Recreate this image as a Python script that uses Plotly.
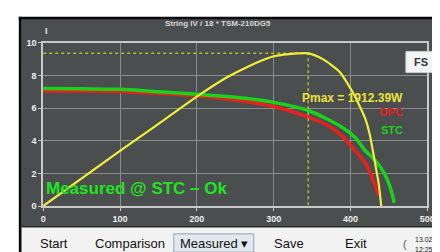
import plotly.graph_objects as go

# ---- data ----
meas_v = [0, 50, 100, 150, 200, 263, 300, 345, 370, 390, 406, 421, 430, 437]
meas_i = [7.05, 7.05, 7.02, 6.9, 6.75, 6.4, 6.1, 5.45, 4.95, 4.25, 3.4, 2.5, 1.5, 0.65]
stc_v = [0, 50, 100, 150, 200, 263, 300, 345, 390, 406, 419, 430, 444, 452, 457]
stc_i = [7.2, 7.18, 7.15, 7.0, 6.85, 6.6, 6.35, 5.85, 4.8, 4.2, 3.4, 2.9, 2.0, 1.1, 0.2]
pow_v = [0, 100, 140, 200, 237, 263, 298, 320, 345, 364, 386, 402, 409, 419, 425, 431, 437, 440]
pow_w = [0, 690, 960, 1370, 1600, 1730, 1870, 1902, 1912, 1840, 1680, 1440, 1310, 1100, 900, 590, 260, 0]
vmpp = 345
pmax = 1912.39
x_ticks = [0, 100, 200, 300, 400, 500]
y_ticks = [0, 2, 4, 6, 8, 10]
title_text = "String IV / 18 * TSM-210DG5"
buttons = ["Start", "Comparison", "Measured ▾", "Save", "Exit"]

W, H = 440, 252
def px(x):
    return x / W
def py(y):
    return 1 - y / H

fig = go.Figure()

fig.add_trace(go.Scatter(x=[0, vmpp, vmpp], y=[pmax, pmax, 0], mode="lines", yaxis="y2",
                         line=dict(color="#b8b832", width=1.5, dash="dot"), hoverinfo="skip"))
fig.add_trace(go.Scatter(x=meas_v, y=meas_i, mode="lines",
                         line=dict(color="#e8201e", width=3.5, shape="spline", smoothing=0.8), name="OPC"))
fig.add_trace(go.Scatter(x=stc_v, y=stc_i, mode="lines",
                         line=dict(color="#18d21c", width=3.5, shape="spline", smoothing=0.8), name="STC"))
fig.add_trace(go.Scatter(x=pow_v, y=pow_w, mode="lines", yaxis="y2",
                         line=dict(color="#f2ee3a", width=2.2, shape="spline", smoothing=0.6), name="P"))

font = "Liberation Sans, Arial, sans-serif"

shapes = [
    dict(type="rect", xref="paper", yref="paper", x0=px(11), x1=px(440), y0=py(222), y1=py(7),
         fillcolor="#4b4e4e", line=dict(width=0), layer="below"),
    dict(type="rect", xref="paper", yref="paper", x0=px(8), x1=px(440), y0=py(7), y1=py(4),
         fillcolor="#0a0a0a", line=dict(width=0), layer="below"),
    dict(type="rect", xref="paper", yref="paper", x0=px(8), x1=px(11), y0=py(252), y1=py(4),
         fillcolor="#0a0a0a", line=dict(width=0), layer="below"),
    dict(type="rect", xref="paper", yref="paper", x0=px(11), x1=px(440), y0=py(252), y1=py(223),
         fillcolor="#f2f2f2", line=dict(width=0), layer="below"),
    dict(type="line", xref="paper", yref="paper", x0=px(11), x1=px(440), y0=py(222.5), y1=py(222.5),
         line=dict(color="#2a2a2a", width=1.5)),
    dict(type="rect", xref="paper", yref="paper", x0=px(167), x1=px(249), y0=py(249), y1=py(230),
         fillcolor="#e3e8ee", line=dict(color="#8fa3bb", width=1), layer="below"),
    dict(type="rect", xref="paper", yref="paper", x0=px(405), x1=px(437), y0=py(62), y1=py(40),
         fillcolor="#f4f4f4", line=dict(color="#cccccc", width=1)),
]

annotations = [
    dict(text="<b>" + title_text + "</b>", x=px(212), y=py(11), xref="paper", yref="paper", showarrow=False,
         font=dict(family=font, size=8, color="#d8d8d8"), xanchor="center", yanchor="middle"),
    dict(text="<b>I</b>", x=px(36), y=py(19), xref="paper", yref="paper", showarrow=False,
         font=dict(family=font, size=9, color="#e8e8e8"), xanchor="center", yanchor="middle"),
    dict(text="<b>V</b>", x=px(437), y=py(198), xref="paper", yref="paper", showarrow=False,
         font=dict(family=font, size=10, color="#e8e8e8"), xanchor="center", yanchor="middle"),
    dict(text="<b>FS</b>", x=px(421), y=py(51), xref="paper", yref="paper", showarrow=False,
         font=dict(family=font, size=11, color="#333333"), xanchor="center", yanchor="middle"),
    dict(text=f"<b>Pmax = {pmax:.2f}W</b>", x=px(404), y=py(88), xref="paper", yref="paper", showarrow=False,
         font=dict(family=font, size=12, color="#e8e43a"), xanchor="right", yanchor="middle"),
    dict(text="<b>OPC</b>", x=px(404), y=py(103), xref="paper", yref="paper", showarrow=False,
         font=dict(family=font, size=11, color="#e8201e"), xanchor="right", yanchor="middle"),
    dict(text="<b>STC</b>", x=px(404), y=py(122), xref="paper", yref="paper", showarrow=False,
         font=dict(family=font, size=11, color="#18d21c"), xanchor="right", yanchor="middle"),
    dict(text="<b>Measured @ STC – Ok</b>", x=px(34), y=py(183), xref="paper", yref="paper", showarrow=False,
         font=dict(family=font, size=17, color="#1ee61e"), xanchor="left", yanchor="middle"),
    dict(text="13.02/1", x=px(412), y=py(236), xref="paper", yref="paper", showarrow=False,
         font=dict(family=font, size=7, color="#222222"), xanchor="left", yanchor="middle"),
    dict(text="12:25", x=px(412), y=py(246), xref="paper", yref="paper", showarrow=False,
         font=dict(family=font, size=7, color="#222222"), xanchor="left", yanchor="middle"),
    dict(text="(", x=px(404), y=py(241), xref="paper", yref="paper", showarrow=False,
         font=dict(family=font, size=11, color="#555555"), xanchor="center", yanchor="middle"),
]
btn_x = [44, 122, 208, 285, 354]
for b, bx in zip(buttons, btn_x):
    annotations.append(dict(text=b, x=px(bx), y=py(240), xref="paper", yref="paper", showarrow=False,
                            font=dict(family=font, size=13, color="#111111"),
                            xanchor="center", yanchor="middle"))

x0p, x1p = px(33), px(427)
y0p, y1p = py(201), py(31)

fig.update_layout(
    width=W, height=H, margin=dict(l=0, r=0, t=0, b=0),
    paper_bgcolor="#ffffff", plot_bgcolor="rgba(0,0,0,0)",
    showlegend=False,
    shapes=shapes, annotations=annotations,
    xaxis=dict(domain=[x0p, x1p], range=[0, 500], tickvals=x_ticks,
               ticktext=["<b>%d</b>" % v for v in x_ticks],
               showgrid=True, gridcolor="#8a8c8c", gridwidth=1, zeroline=False,
               showline=True, linecolor="#c8c8c8", linewidth=1.5, mirror=True,
               ticks="outside", ticklen=3, tickcolor="#c8c8c8",
               tickfont=dict(family=font, size=9, color="#f0f0f0"), fixedrange=True),
    yaxis=dict(domain=[y0p, y1p], range=[0, 10], tickvals=y_ticks,
               ticktext=["<b>%d</b>" % v for v in y_ticks],
               showgrid=True, gridcolor="#8a8c8c", gridwidth=1, zeroline=False,
               showline=True, linecolor="#c8c8c8", linewidth=1.5, mirror=True,
               ticks="outside", ticklen=3, tickcolor="#c8c8c8",
               tickfont=dict(family=font, size=9, color="#f0f0f0"), fixedrange=True),
    yaxis2=dict(overlaying="y", range=[0, 2045], visible=False, fixedrange=True),
)

fig.write_html("out.html")
